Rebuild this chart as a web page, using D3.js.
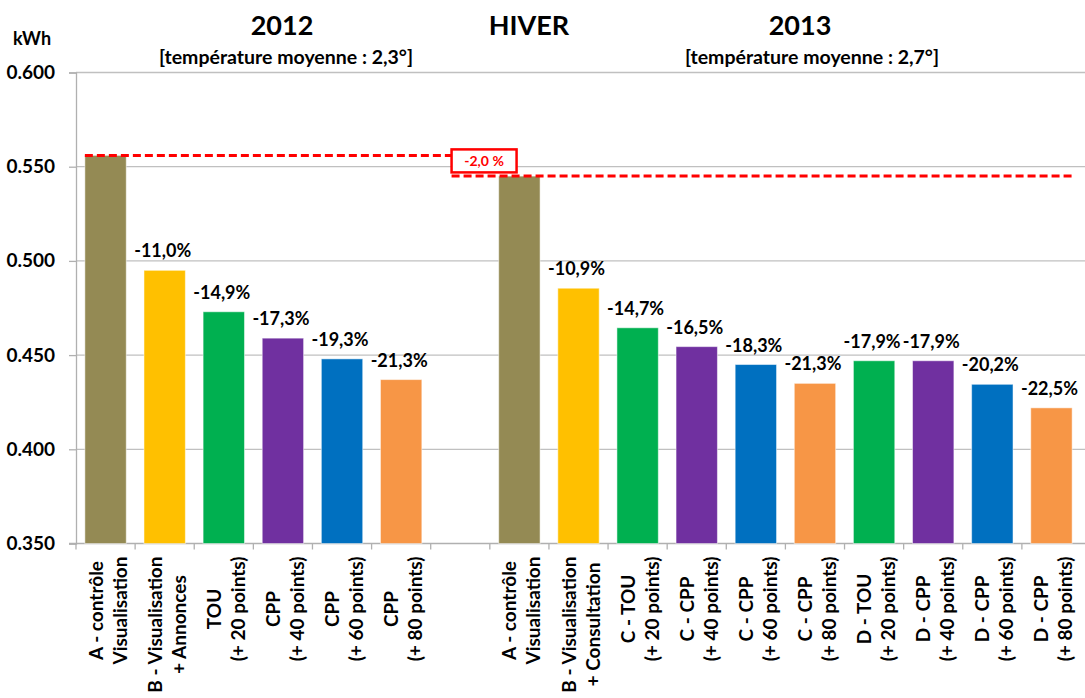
<!DOCTYPE html>
<html>
<head>
<meta charset="utf-8">
<script src="https://cdn.jsdelivr.net/npm/d3@7"></script>
<style>
  body { margin: 0; background: #fff; }
  svg text { font-family: Lato, "Open Sans", sans-serif; font-weight: bold; }
</style>
</head>
<body>
<svg id="chart" width="1085" height="698"></svg>
<script>
// 2012 series
var labels2012 = [["A - contrôle", "Visualisation"], ["B - Visualisation", "+ Annonces"],
  ["TOU", "(+ 20 points)"], ["CPP", "(+ 40 points)"], ["CPP", "(+ 60 points)"], ["CPP", "(+ 80 points)"]];
var values2012 = [0.556, 0.495, 0.473, 0.459, 0.448, 0.437];
var pct2012 = ["", "-11,0%", "-14,9%", "-17,3%", "-19,3%", "-21,3%"];

// 2013 series
var labels2013 = [["A - contrôle", "Visualisation"], ["B - Visualisation", "+ Consultation"],
  ["C - TOU", "(+ 20 points)"], ["C - CPP", "(+ 40 points)"], ["C - CPP", "(+ 60 points)"], ["C - CPP", "(+ 80 points)"],
  ["D - TOU", "(+ 20 points)"], ["D - CPP", "(+ 40 points)"], ["D - CPP", "(+ 60 points)"], ["D - CPP", "(+ 80 points)"]];
var values2013 = [0.545, 0.4855, 0.4645, 0.4545, 0.445, 0.435, 0.447, 0.447, 0.4345, 0.422];
var pct2013 = ["", "-10,9%", "-14,7%", "-16,5%", "-18,3%", "-21,3%", "-17,9%", "-17,9%", "-20,2%", "-22,5%"];

var yTicks = [0.35, 0.40, 0.45, 0.50, 0.55, 0.60];
var diffLabel = "-2,0 %";

var colors2012 = ["#948a54", "#ffc000", "#00b050", "#7030a0", "#0070c0", "#f79646"];
var colors2013 = ["#948a54", "#ffc000", "#00b050", "#7030a0", "#0070c0", "#f79646",
  "#00b050", "#7030a0", "#0070c0", "#f79646"];

var svg = d3.select("#chart");
var plotLeft = 76, plotRight = 1081, plotTop = 72.5, plotBottom = 543.5;

// build category rows, with an empty slot between the two years
var rows = [];
values2012.forEach(function (v, i) {
  rows.push({id: "a" + i, label: labels2012[i], value: v, pct: pct2012[i], color: colors2012[i]});
});
rows.push({id: "gap", label: null, value: null});
values2013.forEach(function (v, i) {
  rows.push({id: "b" + i, label: labels2013[i], value: v, pct: pct2013[i], color: colors2013[i]});
});

var x = d3.scaleBand()
  .domain(rows.map(function (d) { return d.id; }))
  .range([plotLeft, plotRight])
  .paddingInner(0.3)
  .paddingOuter(0.15);

var y = d3.scaleLinear().domain([0.35, 0.60]).range([plotBottom, plotTop]);

// gridlines
svg.append("g").selectAll("line").data(yTicks.slice(1)).enter().append("line")
  .attr("x1", plotLeft).attr("x2", 1085)
  .attr("y1", function (d) { return y(d); }).attr("y2", function (d) { return y(d); })
  .attr("stroke", "#c0c0c0").attr("stroke-width", 1.3);

// y axis
var yAxis = d3.axisLeft(y).tickValues(yTicks).tickFormat(d3.format(".3f"))
  .tickSize(7).tickPadding(14);
var gy = svg.append("g").attr("transform", "translate(" + plotLeft + ",0)").call(yAxis);
gy.select(".domain").attr("stroke", "#b0b0b0").attr("stroke-width", 1.3);
gy.selectAll(".tick line").attr("stroke", "#b0b0b0").attr("stroke-width", 1.3);
gy.selectAll(".tick text").attr("font-size", 19).attr("fill", "#000")
  .attr("font-family", "Lato, sans-serif").attr("font-weight", "bold");

// bottom axis line and ticks at category boundaries
var step = x.step();
svg.append("line").attr("x1", plotLeft - 7).attr("x2", 1085).attr("y1", plotBottom).attr("y2", plotBottom)
  .attr("stroke", "#b0b0b0").attr("stroke-width", 1.3);
svg.append("g").selectAll("line").data(rows).enter().append("line")
  .attr("x1", function (d) { return x(d.id) - step * 0.15; })
  .attr("x2", function (d) { return x(d.id) - step * 0.15; })
  .attr("y1", plotBottom).attr("y2", plotBottom + 6)
  .attr("stroke", "#b0b0b0").attr("stroke-width", 1.3);

// bars
var barRows = rows.filter(function (d) { return d.value !== null; });
svg.append("g").selectAll("rect").data(barRows).enter().append("rect")
  .attr("x", function (d) { return x(d.id); })
  .attr("width", x.bandwidth())
  .attr("y", function (d) { return y(d.value); })
  .attr("height", function (d) { return y(0.35) - y(d.value); })
  .attr("fill", function (d) { return d.color; })
  .attr("stroke", "#ffffff").attr("stroke-opacity", 0.5).attr("stroke-width", 1);

// percentage labels
svg.append("g").selectAll("text").data(barRows.filter(function (d) { return d.pct; })).enter().append("text")
  .attr("x", function (d) { return x(d.id) + x.bandwidth() / 2 - 2; })
  .attr("y", function (d) { return y(d.value) - 13; })
  .attr("text-anchor", "middle")
  .attr("font-size", 18)
  .attr("fill", "#000")
  .text(function (d) { return d.pct; });

// category labels, rotated, two lines centred on each other
var cats = svg.append("g");
rows.filter(function (d) { return d.label; }).forEach(function (d) {
  var cx = x(d.id) + x.bandwidth() / 2;
  var t = cats.append("text").attr("font-size", 19).attr("fill", "#000").attr("text-anchor", "middle");
  t.selectAll("tspan").data(d.label).enter().append("tspan")
    .attr("x", 0)
    .attr("y", function (s, i) { return i === 0 ? -3 : 21; })
    .text(function (s) { return s; });
  var maxLen = 0;
  t.selectAll("tspan").each(function () { maxLen = Math.max(maxLen, this.getComputedTextLength()); });
  t.attr("transform", "translate(" + cx + "," + (plotBottom + 13 + maxLen / 2) + ") rotate(-90)");
});

// red dashed reference lines and difference box
var boxX = x("gap") + 12, boxW = 65, boxH = 23;
var y12 = y(values2012[0]), y13 = y(values2013[0]);
svg.append("line")
  .attr("x1", x("a0")).attr("x2", boxX)
  .attr("y1", y12).attr("y2", y12)
  .attr("stroke", "#ff0000").attr("stroke-width", 3).attr("stroke-dasharray", "8,4");
svg.append("line")
  .attr("x1", boxX).attr("x2", x("b9") + x.bandwidth())
  .attr("y1", y13).attr("y2", y13)
  .attr("stroke", "#ff0000").attr("stroke-width", 3).attr("stroke-dasharray", "8,4");
svg.append("rect")
  .attr("x", boxX).attr("y", y12 - 6).attr("width", boxW).attr("height", boxH)
  .attr("fill", "#fff").attr("stroke", "#ff0000").attr("stroke-width", 2.5);
svg.append("text")
  .attr("x", boxX + boxW / 2).attr("y", y12 + 11)
  .attr("text-anchor", "middle").attr("font-size", 14).attr("fill", "#ff0000")
  .text(diffLabel);

// titles
svg.append("text").attr("x", 32).attr("y", 45).attr("text-anchor", "middle")
  .attr("font-size", 18).text("kWh");
svg.append("text").attr("x", 282).attr("y", 35).attr("text-anchor", "middle")
  .attr("font-size", 27).text("2012");
svg.append("text").attr("x", 286).attr("y", 64).attr("text-anchor", "middle")
  .attr("font-size", 19.5).text("[température moyenne : 2,3°]");
svg.append("text").attr("x", 529).attr("y", 35).attr("text-anchor", "middle")
  .attr("font-size", 27).text("HIVER");
svg.append("text").attr("x", 800).attr("y", 35).attr("text-anchor", "middle")
  .attr("font-size", 27).text("2013");
svg.append("text").attr("x", 812).attr("y", 64).attr("text-anchor", "middle")
  .attr("font-size", 19.5).text("[température moyenne : 2,7°]");
</script>
</body>
</html>
